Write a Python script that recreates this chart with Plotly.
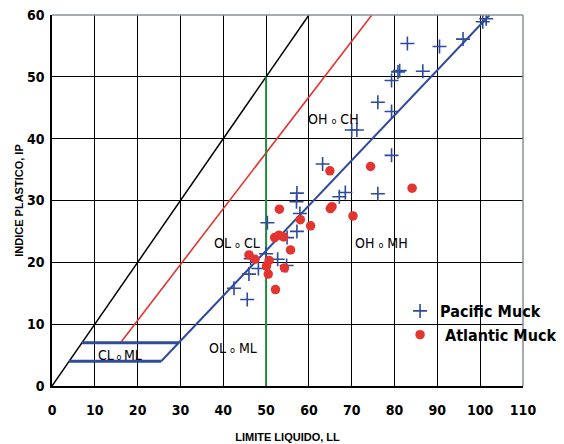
import plotly.graph_objects as go

# Pacific Muck (LL, IP)
pac_ll = [42.5, 45.6, 46.0, 46.4, 48.2, 50.0, 50.3, 52.7, 54.8, 54.9, 57.2, 57.9, 57.1, 57.2,
          63.2, 67.1, 68.5, 76.1, 79.3, 70.0, 71.2, 76.1, 79.3, 79.3, 80.8, 81.2, 86.6, 83.0,
          90.5, 96.0, 100.6, 101.4]
pac_ip = [15.8, 14.0, 18.1, 20.6, 19.0, 21.4, 26.4, 20.5, 19.5, 24.0, 25.0, 27.9, 29.8, 31.2,
          35.9, 30.6, 31.3, 31.1, 37.3, 41.4, 41.4, 45.9, 44.4, 49.4, 50.8, 51.0, 50.9, 55.4,
          54.9, 56.1, 58.9, 59.4]

# Atlantic Muck (LL, IP)
atl_ll = [46.0, 47.4, 50.7, 50.1, 50.5, 52.2, 52.0, 53.0, 54.1, 53.1, 55.7, 54.3, 58.0, 60.4,
          64.9, 65.0, 65.4, 70.3, 74.4, 84.1]
atl_ip = [21.2, 20.5, 20.3, 19.4, 18.1, 15.6, 24.0, 24.4, 24.1, 28.6, 22.0, 19.1, 26.9, 25.9,
          34.8, 28.7, 29.0, 27.5, 35.5, 32.0]

# Reference lines
line_ll_eq_ip_x = [0, 60]
line_ll_eq_ip_y = [0, 60]
u_line_x = [16, 74.7]
u_line_y = [7, 60]
a_line_x = [25.5, 102.2]
a_line_y = [4, 60]
h7_x = [7, 29.6]
h7_y = [7, 7]
h4_x = [4, 25.5]
h4_y = [4, 4]
ll50_x = [50, 50]
ll50_y = [0, 50]

xticks = list(range(0, 111, 10))
yticks = list(range(0, 61, 10))

SMALL_O = "<span style='font-size:9px'>o</span>"
zones = [
    ("OH " + SMALL_O + " CH", 65.8, 43.2),
    ("OL " + SMALL_O + " CL", 43.2, 23.1),
    ("OH " + SMALL_O + " MH", 77.0, 23.1),
    ("OL " + SMALL_O + " ML", 42.3, 6.1),
    ("CL<span style='font-size:9px'> o </span>ML", 15.8, 5.0),
]

BLUE = "#2e4b9c"
RED = "#e3342f"
GREEN = "#1f8a3b"
NARROW = "DejaVu Sans Condensed, Liberation Sans Narrow, Arial Narrow, sans-serif"

fig = go.Figure()

def add_line(x, y, color, width):
    fig.add_trace(go.Scatter(x=x, y=y, mode="lines", line=dict(color=color, width=width),
                             showlegend=False, hoverinfo="skip"))

add_line(line_ll_eq_ip_x, line_ll_eq_ip_y, "black", 1.5)
add_line(u_line_x, u_line_y, RED, 1.6)
add_line(ll50_x, ll50_y, GREEN, 2)
add_line(a_line_x, a_line_y, BLUE, 2)
add_line(h7_x, h7_y, BLUE, 3)
add_line(h4_x, h4_y, BLUE, 3)

fig.add_trace(go.Scatter(x=pac_ll, y=pac_ip, mode="markers", name="Pacific Muck",
                         marker=dict(symbol="cross-thin-open", size=10,
                                     line=dict(color=BLUE, width=1.6), color=BLUE)))
fig.add_trace(go.Scatter(x=atl_ll, y=atl_ip, mode="markers", name=" Atlantic Muck",
                         marker=dict(symbol="circle", size=9.5, color=RED)))

for txt, x, y in zones:
    fig.add_annotation(x=x, y=y, text=txt, showarrow=False,
                       font=dict(family=NARROW, size=14, color="black"))

fig.add_shape(type="line", xref="paper", yref="paper", x0=0, x1=1, y0=1, y1=1,
              line=dict(color="#8a9099", width=1.5), layer="above")
fig.add_shape(type="line", xref="paper", yref="paper", x0=1, x1=1, y0=0, y1=1,
              line=dict(color="#8a9099", width=1.5), layer="above")

tickfont = dict(family=NARROW, size=14, color="black", weight="bold")

# page body has an 8px default margin, so the figure is sized/margined to compensate
fig.update_layout(
    width=556, height=436,
    margin=dict(l=44, r=41, t=7, b=58, autoexpand=False),
    paper_bgcolor="white", plot_bgcolor="white",
    showlegend=True,
    legend=dict(x=0.739, y=0.248, xanchor="left", yanchor="top", bgcolor="rgba(0,0,0,0)",
                font=dict(family=NARROW, size=16, color="black", weight="bold"),
                itemwidth=30, tracegroupgap=0),
    xaxis=dict(range=[0, 110], tickvals=xticks, showgrid=True, gridcolor="black", gridwidth=1.2,
               zeroline=False, showline=True, linecolor="black", linewidth=1.5,
               tickfont=tickfont, ticks="", automargin=False, ticklabelstandoff=10,
               ticklabeloverflow="allow",
               title=dict(text="LIMITE LIQUIDO, LL", standoff=17,
                          font=dict(family="Liberation Sans, Arial", size=11, color="black", weight="bold"))),
    yaxis=dict(range=[0, 60], tickvals=yticks, showgrid=True, gridcolor="black", gridwidth=1.2,
               zeroline=False, showline=True, linecolor="black", linewidth=1.5,
               tickfont=tickfont, ticks="", automargin=False, ticklabelstandoff=3,
               ticklabeloverflow="allow",
               title=dict(text="INDICE PLASTICO, IP", standoff=1,
                          font=dict(family="Liberation Sans, Arial", size=11, color="black", weight="bold"))),
)

fig.write_html("out.html")
